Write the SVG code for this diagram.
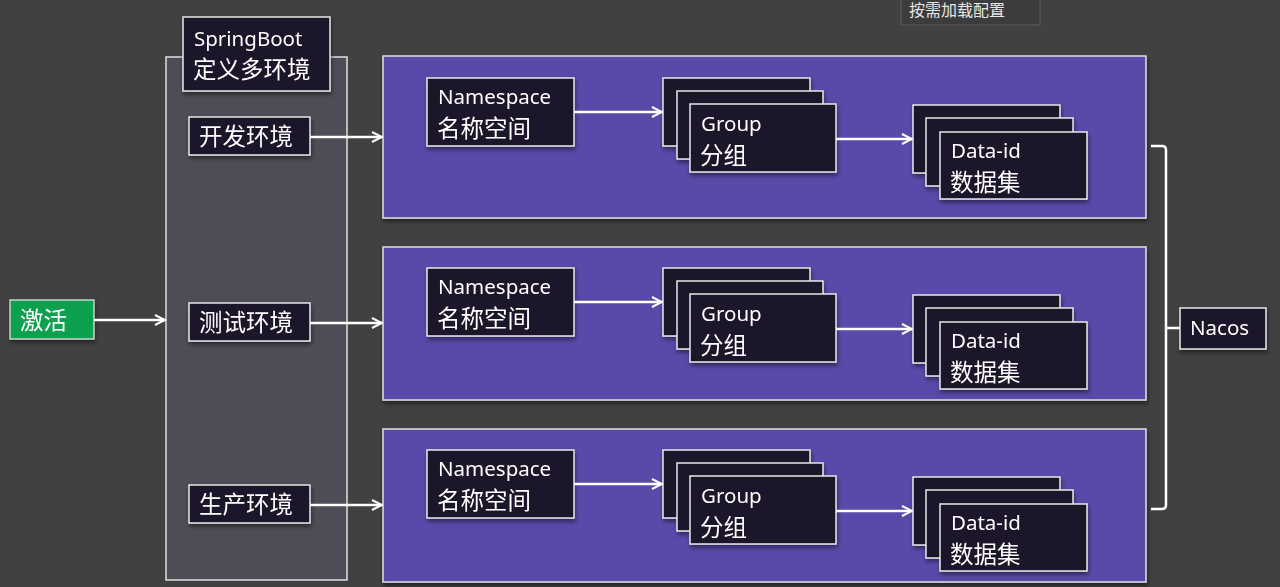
<svg xmlns="http://www.w3.org/2000/svg" width="1280" height="587" viewBox="0 0 1280 587">
<defs>
<style>
.bg{fill:#414141}
.dark{fill:#1f1229;stroke:#e8e8e8;stroke-width:1.5}
.panel{fill:#5a49a9;stroke:#e0e0e0;stroke-width:1.5}
.cont{fill:#4e4c57;stroke:#e0e0e0;stroke-width:1.5}
.lat{font-family:"Noto Sans","Noto Sans CJK SC",sans-serif;font-size:20.5px;fill:#ffffff}
.cjk{font-family:"Noto Sans CJK SC","Noto Sans",sans-serif;font-size:23.5px;fill:#ffffff}
.line{stroke:#ffffff;stroke-width:2.5;fill:none}
</style>
<marker id="ah" viewBox="0 0 10 10" refX="9" refY="5" markerWidth="5" markerHeight="5" markerUnits="strokeWidth" orient="auto">
<path d="M1,1 L9,5 L1,9" fill="none" stroke="#ffffff" stroke-width="1.6"/>
</marker>
<filter id="sh" x="-10%" y="-10%" width="130%" height="140%">
<feDropShadow dx="1" dy="3" stdDeviation="2" flood-color="#000000" flood-opacity="0.45"/>
</filter>
</defs>
<rect class="bg" x="0" y="0" width="1280" height="587"/>

<g id="tooltip">
<rect x="901" y="-6" width="139" height="31" fill="#3c3c3c" stroke="#5a5a5a" stroke-width="1.2" rx="2"/>
<text x="909" y="16" style="font-family:'Noto Sans CJK SC',sans-serif;font-size:16px;fill:#e6e6e6">按需加载配置</text>
</g>

<g id="springboot-container">
<rect class="cont" x="166" y="57" width="181" height="523"/>
</g>
<g id="springboot-label" filter="url(#sh)">
<rect class="dark" x="183" y="17" width="147" height="74"/>
<text class="lat" x="194" y="46">SpringBoot</text>
<text class="cjk" x="193" y="78">定义多环境</text>
</g>

<g id="activate" filter="url(#sh)">
<rect x="10" y="300" width="84" height="39" fill="#11a04f" stroke="#e8e8e8" stroke-width="1.2"/>
<text class="cjk" x="20" y="329">激活</text>
</g>

<g id="env-dev" filter="url(#sh)">
<rect class="dark" x="189" y="117" width="121" height="38"/>
<text class="cjk" x="199" y="145">开发环境</text>
</g>
<g id="env-test" filter="url(#sh)">
<rect class="dark" x="189" y="303" width="121" height="38"/>
<text class="cjk" x="199" y="331">测试环境</text>
</g>
<g id="env-prod" filter="url(#sh)">
<rect class="dark" x="189" y="485" width="121" height="38"/>
<text class="cjk" x="199" y="513">生产环境</text>
</g>

<g id="panel-1">
<rect class="panel" x="383" y="56" width="763" height="162" filter="url(#sh)"/>
<g id="ns-1" filter="url(#sh)">
<rect class="dark" x="427" y="78" width="147" height="68"/>
<text class="lat" x="438" y="104">Namespace</text>
<text class="cjk" x="437" y="137">名称空间</text>
</g>
<g id="group-1" filter="url(#sh)">
<rect class="dark" x="663" y="78" width="147" height="68"/>
<rect class="dark" x="677" y="91" width="146" height="68"/>
<rect class="dark" x="690" y="104" width="146" height="68"/>
<text class="lat" x="701" y="131">Group</text>
<text class="cjk" x="700" y="164">分组</text>
</g>
<g id="data-1" filter="url(#sh)">
<rect class="dark" x="913" y="105" width="147" height="68"/>
<rect class="dark" x="926" y="118" width="147" height="68"/>
<rect class="dark" x="940" y="132" width="147" height="67"/>
<text class="lat" x="951" y="158">Data-id</text>
<text class="cjk" x="950" y="191">数据集</text>
</g>
</g>

<g id="panel-2">
<rect class="panel" x="383" y="247" width="763" height="153" filter="url(#sh)"/>
<g id="ns-2" filter="url(#sh)">
<rect class="dark" x="427" y="268" width="147" height="68"/>
<text class="lat" x="438" y="294">Namespace</text>
<text class="cjk" x="437" y="327">名称空间</text>
</g>
<g id="group-2" filter="url(#sh)">
<rect class="dark" x="663" y="268" width="147" height="68"/>
<rect class="dark" x="677" y="281" width="146" height="68"/>
<rect class="dark" x="690" y="294" width="146" height="68"/>
<text class="lat" x="701" y="321">Group</text>
<text class="cjk" x="700" y="354">分组</text>
</g>
<g id="data-2" filter="url(#sh)">
<rect class="dark" x="913" y="295" width="147" height="68"/>
<rect class="dark" x="926" y="308" width="147" height="68"/>
<rect class="dark" x="940" y="322" width="147" height="67"/>
<text class="lat" x="951" y="348">Data-id</text>
<text class="cjk" x="950" y="381">数据集</text>
</g>
</g>

<g id="panel-3">
<rect class="panel" x="383" y="429" width="763" height="153" filter="url(#sh)"/>
<g id="ns-3" filter="url(#sh)">
<rect class="dark" x="427" y="450" width="147" height="68"/>
<text class="lat" x="438" y="476">Namespace</text>
<text class="cjk" x="437" y="509">名称空间</text>
</g>
<g id="group-3" filter="url(#sh)">
<rect class="dark" x="663" y="450" width="147" height="68"/>
<rect class="dark" x="677" y="463" width="146" height="68"/>
<rect class="dark" x="690" y="476" width="146" height="68"/>
<text class="lat" x="701" y="503">Group</text>
<text class="cjk" x="700" y="536">分组</text>
</g>
<g id="data-3" filter="url(#sh)">
<rect class="dark" x="913" y="477" width="147" height="68"/>
<rect class="dark" x="926" y="490" width="147" height="68"/>
<rect class="dark" x="940" y="504" width="147" height="67"/>
<text class="lat" x="951" y="530">Data-id</text>
<text class="cjk" x="950" y="563">数据集</text>
</g>
</g>

<g id="nacos" filter="url(#sh)">
<rect class="dark" x="1180" y="308" width="86" height="41"/>
<text class="lat" x="1190" y="335">Nacos</text>
</g>

<g id="connectors">
<line class="line" x1="94" y1="320" x2="165" y2="320" marker-end="url(#ah)"/>
<line class="line" x1="310" y1="137" x2="382" y2="137" marker-end="url(#ah)"/>
<line class="line" x1="310" y1="323" x2="382" y2="323" marker-end="url(#ah)"/>
<line class="line" x1="310" y1="505" x2="382" y2="505" marker-end="url(#ah)"/>
<line class="line" x1="574" y1="112" x2="662" y2="112" marker-end="url(#ah)"/>
<line class="line" x1="574" y1="302" x2="662" y2="302" marker-end="url(#ah)"/>
<line class="line" x1="574" y1="484" x2="662" y2="484" marker-end="url(#ah)"/>
<line class="line" x1="836" y1="139" x2="912" y2="139" marker-end="url(#ah)"/>
<line class="line" x1="836" y1="329" x2="912" y2="329" marker-end="url(#ah)"/>
<line class="line" x1="836" y1="511" x2="912" y2="511" marker-end="url(#ah)"/>
<path class="line" d="M1151,146 H1162 Q1166,146 1166,150 V505 Q1166,509 1162,509 H1151"/>
<path class="line" d="M1166,328 H1180"/>
</g>
</svg>
